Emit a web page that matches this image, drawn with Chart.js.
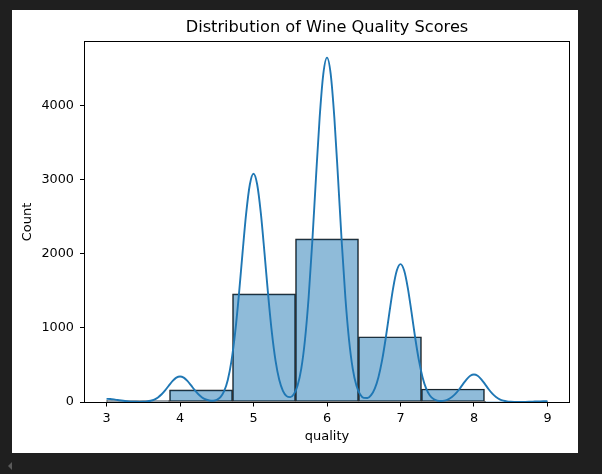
<!DOCTYPE html>
<html>
<head>
<meta charset="utf-8">
<script src="https://cdn.jsdelivr.net/npm/chart.js@4/dist/chart.umd.min.js"></script>
<style>
html,body{margin:0;padding:0;background:#1f1f1f;}
canvas{display:block;}
</style>
</head>
<body>
<canvas id="c" width="602" height="474" style="width:602px;height:474px"></canvas>
<script>
// Histogram bins (7 bins between 3 and 9)
const binCenters = [3.4286, 4.2857, 5.1429, 6.0, 6.8571, 7.7143, 8.5714];
const binCounts = [20, 163, 1457, 2198, 880, 175, 5];

// KDE curve
const kdeX = [3.00,3.05,3.10,3.15,3.20,3.25,3.30,3.35,3.40,3.45,3.50,3.55,3.60,3.65,3.70,3.75,3.80,3.85,3.90,3.95,
4.00,4.05,4.10,4.15,4.20,4.25,4.30,4.35,4.40,4.45,4.50,4.55,4.60,4.65,4.70,4.75,4.80,4.85,4.90,4.95,
5.00,5.05,5.10,5.15,5.20,5.25,5.30,5.35,5.40,5.45,5.50,5.55,5.60,5.65,5.70,5.75,5.80,5.85,5.90,5.95,
6.00,6.05,6.10,6.15,6.20,6.25,6.30,6.35,6.40,6.45,6.50,6.55,6.60,6.65,6.70,6.75,6.80,6.85,6.90,6.95,
7.00,7.05,7.10,7.15,7.20,7.25,7.30,7.35,7.40,7.45,7.50,7.55,7.60,7.65,7.70,7.75,7.80,7.85,7.90,7.95,
8.00,8.05,8.10,8.15,8.20,8.25,8.30,8.35,8.40,8.45,8.50,8.55,8.60,8.65,8.70,8.75,8.80,8.85,8.90,8.95,9.00];
const kdeY = [42,40,34.7,27.3,19.6,12.8,7.6,4.1,2.4,2.0,3.3,7.4,16.3,33.2,61.9,104,160,224,284,328,
344,328,284,224,160,105,62,34,19.5,16.8,29,66,146,297,554,934,1434,2003,2542,2932,
3077,2932,2542,2003,1434,934,554,299,150,79,65.5,107,223,449,836,1409,2163,3022,3834,4424,
4642,4424,3834,3022,2163,1409,836,449,221,103,55,53,93,181,335,564,866,1210,1536,1772,
1859,1772,1536,1210,866,564,335,180,88,40,19,13.6,19.4,36,67,112,172,241,306,353,
370,353,306,241,172,112,67,36,17.5,7.8,3.2,1.4,0.9,1.1,2.0,3.3,5.1,7.2,9.1,10.5,11];

const xTicks = [3, 4, 5, 6, 7, 8, 9];
const yTicks = [0, 1000, 2000, 3000, 4000];

const FONT = 'DejaVu Sans';
const tickFont = {family: FONT, size: 12.8};
const labelFont = {family: FONT, size: 13};

const bgPlugin = {
  id: 'bg',
  beforeDraw(chart) {
    const ctx = chart.ctx;
    ctx.save();
    ctx.fillStyle = '#1f1f1f';
    ctx.fillRect(0, 0, chart.width, chart.height);
    ctx.fillStyle = '#ffffff';
    ctx.fillRect(12, 10, 566, 443);
    // small scroll arrow at bottom left
    ctx.fillStyle = '#5a5a5a';
    ctx.beginPath();
    ctx.moveTo(8, 466);
    ctx.lineTo(12, 462);
    ctx.lineTo(12, 470);
    ctx.closePath();
    ctx.fill();
    ctx.restore();
  }
};

const framePlugin = {
  id: 'frame',
  afterDatasetsDraw(chart) {
    const a = chart.chartArea;
    const ctx = chart.ctx;
    const r = v => Math.round(v - 0.5) + 0.5;
    ctx.save();
    ctx.strokeStyle = '#000';
    ctx.lineWidth = 1;
    ctx.strokeRect(r(a.left), r(a.top), r(a.right) - r(a.left), r(a.bottom) - r(a.top));
    ctx.restore();
  }
};

new Chart(document.getElementById('c'), {
  type: 'bar',
  data: {
    datasets: [
      {
        type: 'bar',
        data: binCenters.map((x, i) => ({x: x, y: binCounts[i]})),
        backgroundColor: 'rgba(31,119,180,0.5)',
        borderColor: '#1a1a1a',
        borderWidth: 1,
        borderSkipped: false,
        barPercentage: 1,
        categoryPercentage: 1,
        order: 2
      },
      {
        type: 'line',
        data: kdeX.map((x, i) => ({x: x, y: kdeY[i]})),
        borderColor: '#1f77b4',
        borderWidth: 1.9,
        pointRadius: 0,
        cubicInterpolationMode: 'monotone',
        fill: false,
        order: 1
      }
    ]
  },
  options: {
    responsive: false,
    animation: false,
    devicePixelRatio: 1,
    layout: {padding: {left: 12, top: 10, right: 32.5, bottom: 24}},
    plugins: {
      legend: {display: false},
      tooltip: {enabled: false},
      title: {
        display: true,
        fullSize: false,
        text: 'Distribution of Wine Quality Scores',
        color: '#000',
        font: {family: FONT, size: 16.2, weight: 'normal', lineHeight: 1.1},
        padding: {top: 9, bottom: 5}
      }
    },
    scales: {
      x: {
        type: 'linear',
        min: 2.7,
        max: 9.3,
        offset: false,
        afterBuildTicks: s => { s.ticks = xTicks.map(v => ({value: v})); },
        afterFit: s => { s.height = 48; },
        grid: {display: true, drawOnChartArea: false, offset: false, tickLength: 4.5, tickColor: '#000', tickWidth: 1},
        border: {display: false},
        ticks: {color: '#000', font: tickFont, padding: 4, autoSkip: false, maxRotation: 0, callback: v => String(v)},
        title: {display: true, text: 'quality', color: '#000', font: labelFont, padding: {top: 0, bottom: 5.3}}
      },
      y: {
        type: 'linear',
        min: 0,
        max: 4855,
        afterBuildTicks: s => { s.ticks = yTicks.map(v => ({value: v})); },
        afterFit: s => { s.width = 72.5; },
        grid: {display: true, drawOnChartArea: false, tickLength: 4.5, tickColor: '#000', tickWidth: 1},
        border: {display: false},
        ticks: {color: '#000', font: tickFont, padding: 6, callback: v => String(v)},
        title: {display: true, text: 'Count', color: '#000', font: labelFont, padding: {top: 8.2, bottom: 0}}
      }
    }
  },
  plugins: [bgPlugin, framePlugin]
});
</script>
</body>
</html>
